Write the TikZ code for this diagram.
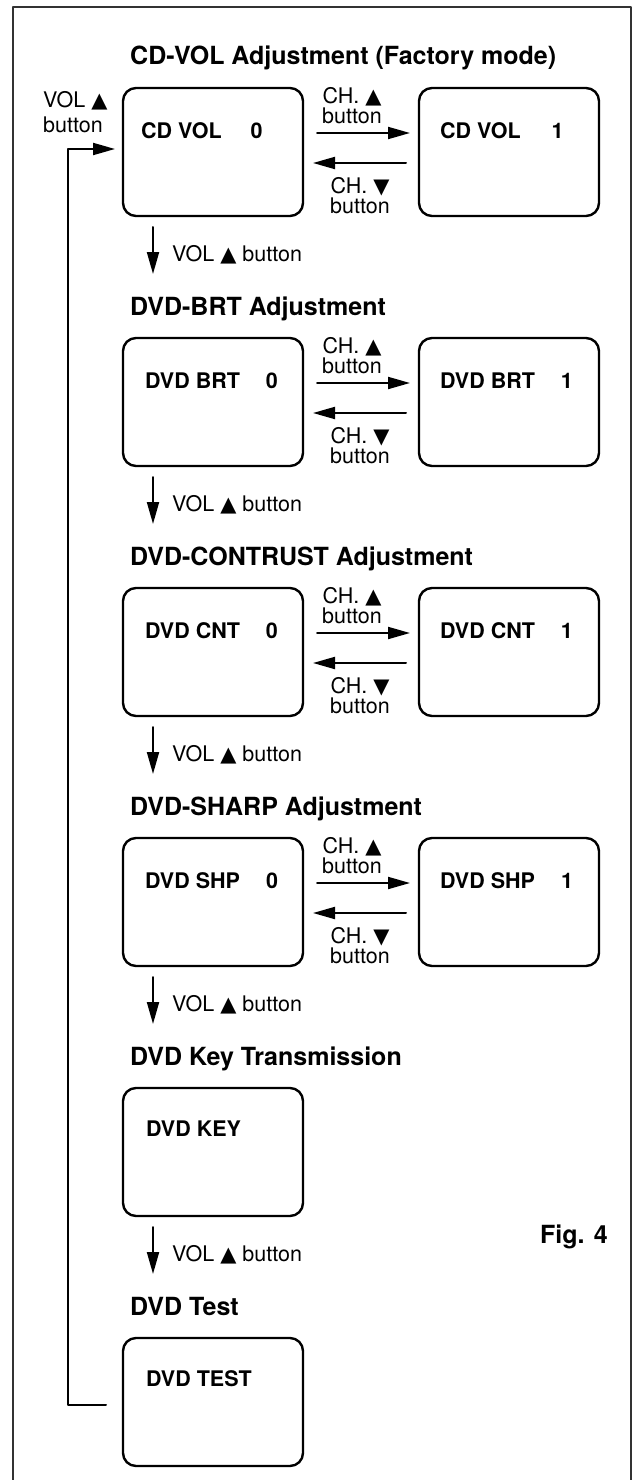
\documentclass[tikz,border=0pt]{standalone}
\usepackage{fontspec}
\setmainfont{TeX Gyre Heros}
\newfontfamily\dvsym{DejaVu Sans}
\usetikzlibrary{arrows.meta,positioning}
\definecolor{frm}{RGB}{50,50,50}
\newcommand{\triup}{{\dvsym\fontsize{21}{21}\selectfont ▲}}
\newcommand{\tridn}{{\dvsym\fontsize{21}{21}\selectfont ▼}}

\begin{document}
\begin{tikzpicture}[line cap=round,line join=round,>={Triangle[length=22pt,width=12pt]},x=1pt,y=-1pt,
	scr/.style={draw,rounded corners=13pt,minimum width=180pt,minimum height=128pt,line width=2.4pt,inner sep=0pt,outer sep=0pt},
	ttl/.style={font=\fontsize{25}{30}\selectfont\bfseries,anchor=base west,inner sep=0pt},
	lbl/.style={font=\fontsize{21.5}{26}\selectfont\bfseries,anchor=base west,inner sep=0pt},
	btn/.style={font=\fontsize{21.5}{20}\selectfont,align=center,anchor=north,inner sep=0pt},
	vbtn/.style={font=\fontsize{21.5}{26}\selectfont,anchor=base west,inner sep=0pt},
	conn/.style={line width=2pt}]
	\useasboundingbox (0,0) rectangle (633,1480);
	% frame, open at the bottom
	\draw [line width=2.5pt,color=frm,line cap=butt] (13,1480) -- (13,7) -- (631,7) -- (631,1480);
	% CD-VOL
	\node[ttl] (ttlcd) at (130,65) {CD-VOL Adjustment (Factory mode)};
	\node[scr] (cd0) at (213,152) {};
	\node[scr] (cd1) at (509,152) {};
	\node[lbl] (cd0txt) at (141,138) {CD VOL\hspace{29pt}0};
	\node[lbl] (cd1txt) at (440,138) {CD VOL\hspace{31pt}1};
	\node[btn] (cdup) at (352,87) {CH. \triup\\button};
	\node[btn] (cddn) at (360,177) {CH. \tridn\\button};
	\draw [conn,->] ([shift={(14,45)}]cd0.north east) -- ([shift={(-9,45)}]cd1.north west);
	\draw [conn,->] ([shift={(-13,75)}]cd1.north west) -- ([shift={(10,75)}]cd0.north east);
	\node[font=\fontsize{21.5}{25}\selectfont,align=left,anchor=north west,inner sep=0pt] (vollbl) at (43,91) {VOL \triup\\button};
	\coordinate (d1) at (153,274);
	\draw [conn,->] ([shift={(30,11)}]cd0.south west) -- (d1);
	\node[vbtn] (v1) at (172,261) {VOL \triup\ button};
	% DVD-BRT
	\node[ttl] (ttlbrt) at (130,315) {DVD-BRT Adjustment};
	\node[scr] (brt0) at (213,402) {};
	\node[scr] (brt1) at (509,402) {};
	\node[lbl] (brt0txt) at (145,388) {DVD BRT\hspace{26pt}0};
	\node[lbl] (brt1txt) at (440,388) {DVD BRT\hspace{26pt}1};
	\node[btn] (brtup) at (352,337) {CH. \triup\\button};
	\node[btn] (brtdn) at (360,427) {CH. \tridn\\button};
	\draw [conn,->] ([shift={(14,45)}]brt0.north east) -- ([shift={(-9,45)}]brt1.north west);
	\draw [conn,->] ([shift={(-13,75)}]brt1.north west) -- ([shift={(10,75)}]brt0.north east);
	\coordinate (d2) at (153,524);
	\draw [conn,->] ([shift={(30,11)}]brt0.south west) -- (d2);
	\node[vbtn] (v2) at (172,511) {VOL \triup\ button};
	% DVD-CONTRUST
	\node[ttl] (ttlcnt) at (130,565) {DVD-CONTRUST Adjustment};
	\node[scr] (cnt0) at (213,652) {};
	\node[scr] (cnt1) at (509,652) {};
	\node[lbl] (cnt0txt) at (145,638) {DVD CNT\hspace{26pt}0};
	\node[lbl] (cnt1txt) at (440,638) {DVD CNT\hspace{26pt}1};
	\node[btn] (cntup) at (352,587) {CH. \triup\\button};
	\node[btn] (cntdn) at (360,677) {CH. \tridn\\button};
	\draw [conn,->] ([shift={(14,45)}]cnt0.north east) -- ([shift={(-9,45)}]cnt1.north west);
	\draw [conn,->] ([shift={(-13,75)}]cnt1.north west) -- ([shift={(10,75)}]cnt0.north east);
	\coordinate (d3) at (153,774);
	\draw [conn,->] ([shift={(30,11)}]cnt0.south west) -- (d3);
	\node[vbtn] (v3) at (172,761) {VOL \triup\ button};
	% DVD-SHARP
	\node[ttl] (ttlshp) at (130,815) {DVD-SHARP Adjustment};
	\node[scr] (shp0) at (213,902) {};
	\node[scr] (shp1) at (509,902) {};
	\node[lbl] (shp0txt) at (145,888) {DVD SHP\hspace{26pt}0};
	\node[lbl] (shp1txt) at (440,888) {DVD SHP\hspace{26pt}1};
	\node[btn] (shpup) at (352,837) {CH. \triup\\button};
	\node[btn] (shpdn) at (360,927) {CH. \tridn\\button};
	\draw [conn,->] ([shift={(14,45)}]shp0.north east) -- ([shift={(-9,45)}]shp1.north west);
	\draw [conn,->] ([shift={(-13,75)}]shp1.north west) -- ([shift={(10,75)}]shp0.north east);
	\coordinate (d4) at (153,1024);
	\draw [conn,->] ([shift={(30,11)}]shp0.south west) -- (d4);
	\node[vbtn] (v4) at (172,1011) {VOL \triup\ button};
	% DVD key
	\node[ttl] (ttlkey) at (130,1065) {DVD Key Transmission};
	\node[scr] (key) at (213,1152) {};
	\node[lbl] (keytxt) at (146,1136) {DVD KEY};
	\coordinate (d5) at (153,1274);
	\draw [conn,->] ([shift={(30,11)}]key.south west) -- (d5);
	\node[vbtn] (v5) at (172,1261) {VOL \triup\ button};
	\node[ttl,anchor=base east] (fig) at (608,1243) {Fig. 4};
	% DVD test
	\node[ttl] (ttltst) at (130,1315) {DVD Test};
	\node[scr] (tst) at (213,1402) {};
	\node[lbl] (tsttxt) at (146,1386) {DVD TEST};
	% back to the start
	\coordinate (lpx) at (68,0);
	\coordinate (lpb) at ([shift={(-17,67)}]tst.north west);
	\coordinate (lpt) at ([shift={(-8,61)}]cd0.north west);
	\draw [conn,->] (lpb) -- (lpb -| lpx) |- (lpt);
\end{tikzpicture}
\end{document}
